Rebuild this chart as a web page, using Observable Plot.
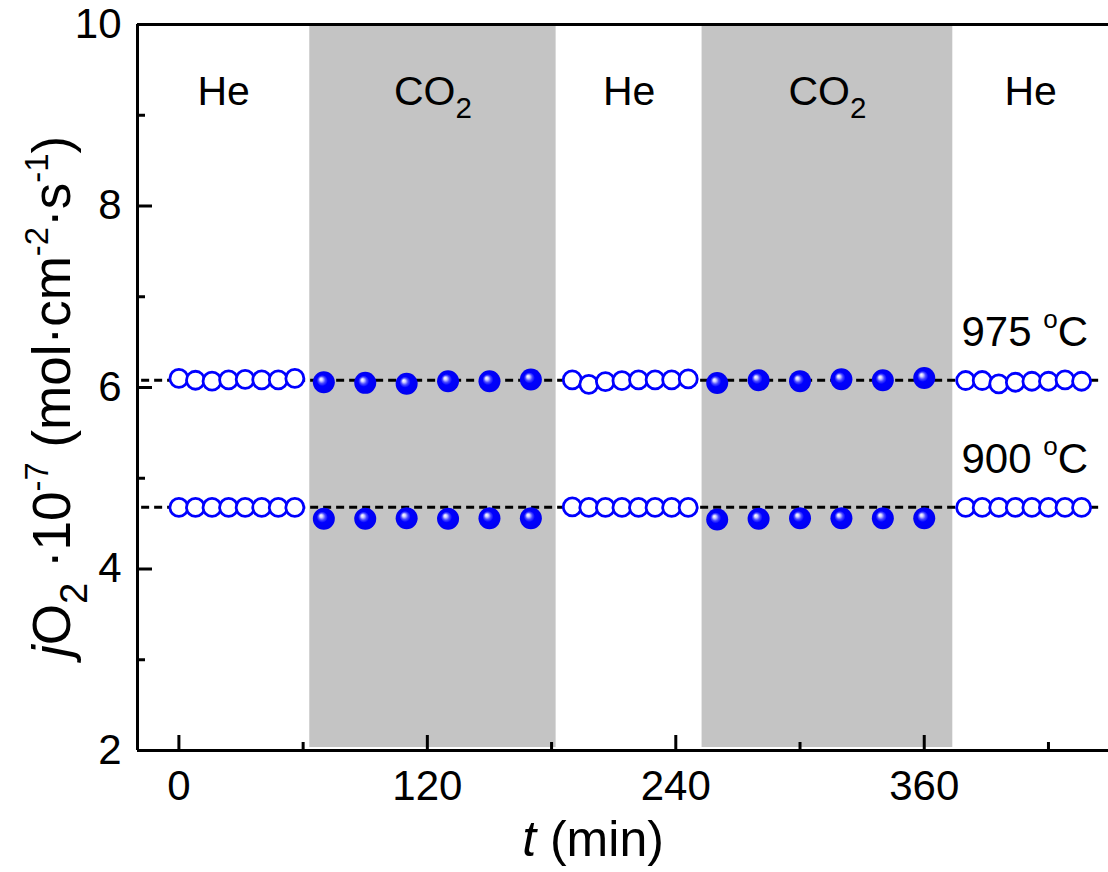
<!DOCTYPE html>
<html>
<head>
<meta charset="utf-8">
<script src="https://cdn.jsdelivr.net/npm/d3@7"></script>
<script src="https://cdn.jsdelivr.net/npm/@observablehq/plot@0.6"></script>
<style>
  body { margin: 0; background: #fff; }
  #chart { width: 1108px; height: 872px; }
</style>
</head>
<body>
<div id="chart"></div>
<script>
// ---- axes / scales ----
const xDomain = [-20, 449];
const yDomain = [2, 10];
const xMajorTicks = [0, 120, 240, 360];
const xMinorTicks = [60, 180, 300, 420];
const yMajorTicks = [2, 4, 6, 8, 10];
const yMinorTicks = [3, 5, 7, 9];
const xLabel = "*t* (min)";
const yLabel = "*j*O_{2} ·10^{-7} (mol·cm^{-2}·s^{-1})";

// ---- gas phases ----
const phaseNames = ["He", "CO_{2}", "He", "CO_{2}", "He"];
const phaseGas = ["He", "CO2", "He", "CO2", "He"];
const phaseStart = [-20, 63.2, 182.2, 252.7, 373.8];
const phaseEnd = [63.2, 182.2, 252.7, 373.8, 449];

// ---- measured flux, He (open) ----
const tHe1 = [0, 8, 16, 24, 32, 40, 48, 56];
const j975He1 = [6.10, 6.08, 6.07, 6.085, 6.09, 6.085, 6.085, 6.10];
const j900He1 = [4.68, 4.68, 4.68, 4.68, 4.68, 4.68, 4.68, 4.68];
const tHe2 = [190, 198, 206, 214, 222, 230, 238, 246];
const j975He2 = [6.085, 6.035, 6.065, 6.075, 6.085, 6.085, 6.085, 6.095];
const j900He2 = [4.685, 4.68, 4.68, 4.68, 4.68, 4.68, 4.68, 4.68];
const tHe3 = [380, 388, 396, 404, 412, 420, 428, 436];
const j975He3 = [6.077, 6.077, 6.041, 6.058, 6.069, 6.069, 6.085, 6.069];
const j900He3 = [4.68, 4.68, 4.68, 4.68, 4.68, 4.68, 4.68, 4.68];

// ---- measured flux, CO2 (filled) ----
const tCO2a = [70, 90, 110, 130, 150, 170];
const j975CO2a = [6.058, 6.051, 6.041, 6.069, 6.069, 6.088];
const j900CO2a = [4.553, 4.553, 4.56, 4.553, 4.56, 4.56];
const tCO2b = [260, 280, 300, 320, 340, 360];
const j975CO2b = [6.05, 6.08, 6.07, 6.09, 6.08, 6.105];
const j900CO2b = [4.545, 4.553, 4.56, 4.56, 4.56, 4.56];

// ---- reference levels ----
const levelLabels = ["975 ^{o}C", "900 ^{o}C"];
const levelValues = [6.08, 4.68];
const levelStart = [-18, -18];
const levelEnd = [446, 446];
const levelLabelT = [378, 378];

// ---- build tables ----
const phases = phaseNames.map((name, i) => ({name, gas: phaseGas[i], start: phaseStart[i], end: phaseEnd[i]}));
const rows = [];
function addSeries(times, values, temp, gas) {
  times.forEach((t, i) => rows.push({t, j: values[i], temp, gas}));
}
addSeries(tHe1, j975He1, 975, "He"); addSeries(tHe1, j900He1, 900, "He");
addSeries(tHe2, j975He2, 975, "He"); addSeries(tHe2, j900He2, 900, "He");
addSeries(tHe3, j975He3, 975, "He"); addSeries(tHe3, j900He3, 900, "He");
addSeries(tCO2a, j975CO2a, 975, "CO2"); addSeries(tCO2a, j900CO2a, 900, "CO2");
addSeries(tCO2b, j975CO2b, 975, "CO2"); addSeries(tCO2b, j900CO2b, 900, "CO2");
const levels = levelLabels.map((label, i) => ({label, value: levelValues[i], x1: levelStart[i], x2: levelEnd[i], lx: levelLabelT[i]}));

const BALL = "#0000fe";
const MAJOR = 15, MINOR = 8;

const svg = Plot.plot({
  width: 1108,
  height: 872,
  marginLeft: 137,
  marginRight: 0,
  marginTop: 24,
  marginBottom: 122,
  x: {domain: xDomain, label: null},
  y: {domain: yDomain, label: null},
  style: {fontFamily: "'Liberation Sans', Arial, sans-serif", background: "#fff", color: "#000", overflow: "visible"},
  marks: [
    Plot.rect(phases.filter(d => d.gas === "CO2"), {x1: "start", x2: "end", y1: () => yDomain[0], y2: () => yDomain[1], fill: "#c4c4c4", insetTop: 2, insetBottom: 3}),
    Plot.text(phases, {x: d => (d.start + d.end) / 2, text: "name", frameAnchor: "top", dy: 67.6, fontSize: 41, lineAnchor: "middle", textAnchor: "middle"}),
    Plot.ruleY(levels, {y: "value", x1: "x1", x2: "x2", stroke: "#000", strokeWidth: 3, strokeDasharray: "8,5"}),
    Plot.dot(rows.filter(d => d.gas === "He"), {x: "t", y: "j", r: 9, stroke: "#0000ff", strokeWidth: 2.8, fill: "#fff"}),
    Plot.dot(rows.filter(d => d.gas === "CO2"), {x: "t", y: "j", r: 11, fill: BALL, stroke: "none"}),
    Plot.text(levels, {x: "lx", y: "value", text: "label", textAnchor: "start", lineAnchor: "middle", dy: -48, fontSize: 42}),
    // frame lines (left, top, bottom)
    Plot.ruleY(yDomain, {stroke: "#000", strokeWidth: 3}),
    Plot.ruleX([xDomain[0]], {stroke: "#000", strokeWidth: 3}),
    // inward ticks
    Plot.ruleX(xMajorTicks, {x: d => d, y1: () => yDomain[0], y2: () => yDomain[0], insetBottom: MAJOR, stroke: "#000", strokeWidth: 3}),
    Plot.ruleX(xMinorTicks, {x: d => d, y1: () => yDomain[0], y2: () => yDomain[0], insetBottom: MINOR, stroke: "#000", strokeWidth: 3}),
    Plot.ruleY(yMajorTicks, {y: d => d, x1: () => xDomain[0], x2: () => xDomain[0], insetLeft: MAJOR, stroke: "#000", strokeWidth: 3}),
    Plot.ruleY(yMinorTicks, {y: d => d, x1: () => xDomain[0], x2: () => xDomain[0], insetLeft: MINOR, stroke: "#000", strokeWidth: 3}),
    // tick labels
    Plot.axisX(xMajorTicks, {anchor: "bottom", tickSize: 0, tickPadding: 20, fontSize: 42, tickFormat: d => String(d), label: null}),
    Plot.axisY(yMajorTicks, {anchor: "left", tickSize: 0, tickPadding: 16, fontSize: 42, tickFormat: d => String(d), label: null}),
    // axis titles
    Plot.text([xLabel], {frameAnchor: "bottom", text: d => d, dx: -30, dy: 89, fontSize: 50, lineAnchor: "middle", textAnchor: "middle"}),
    Plot.text([yLabel], {frameAnchor: "left", text: d => d, rotate: -90, dx: -84, dy: 9, fontSize: 53, lineAnchor: "middle", textAnchor: "middle"})
  ]
});

document.getElementById("chart").appendChild(svg);

// gradient for the filled balls
const defs = d3.select(svg).insert("defs", ":first-child");
const grad = defs.append("radialGradient").attr("id", "ball")
  .attr("cx", "0.5").attr("cy", "0.5").attr("r", "0.5").attr("fx", "0.36").attr("fy", "0.35");
grad.append("stop").attr("offset", "0").attr("stop-color", "#ffffff");
grad.append("stop").attr("offset", "0.14").attr("stop-color", "#d0d0ff");
grad.append("stop").attr("offset", "0.32").attr("stop-color", "#4a4aff");
grad.append("stop").attr("offset", "0.5").attr("stop-color", "#0000ff");
grad.append("stop").attr("offset", "1").attr("stop-color", "#0000f0");
d3.select(svg).selectAll(`[fill="${BALL}"]`).attr("fill", "url(#ball)");

// rich text: *italic*, _{sub}, ^{sup}
function richify(el) {
  const s = el.textContent;
  if (!/[*]|[_^]\{/.test(s)) return;
  const tokens = [];
  let buf = "", italic = false, i = 0;
  const push = (text, mode) => { if (text) tokens.push({text, mode, italic}); };
  while (i < s.length) {
    const c = s[i];
    if ((c === "_" || c === "^") && s[i + 1] === "{") {
      push(buf, "n"); buf = "";
      const k = s.indexOf("}", i);
      push(s.slice(i + 2, k), c === "_" ? "sub" : "sup");
      i = k + 1;
    } else if (c === "*") {
      push(buf, "n"); buf = ""; italic = !italic; i++;
    } else { buf += c; i++; }
  }
  push(buf, "n");
  const base = parseFloat(getComputedStyle(el).fontSize) || 42;
  el.textContent = "";
  let shift = 0;
  for (const tk of tokens) {
    const target = tk.mode === "sub" ? 0.32 * base : tk.mode === "sup" ? -0.42 * base : 0;
    const size = tk.mode === "sub" ? 0.72 * base : tk.mode === "sup" ? 0.62 * base : base;
    const ts = document.createElementNS("http://www.w3.org/2000/svg", "tspan");
    ts.setAttribute("dy", (target - shift).toFixed(2));
    ts.setAttribute("font-size", size.toFixed(2));
    if (tk.italic) ts.setAttribute("font-style", "italic");
    ts.textContent = tk.text;
    el.appendChild(ts);
    shift = target;
  }
}
svg.querySelectorAll("text").forEach(richify);
</script>
</body>
</html>
